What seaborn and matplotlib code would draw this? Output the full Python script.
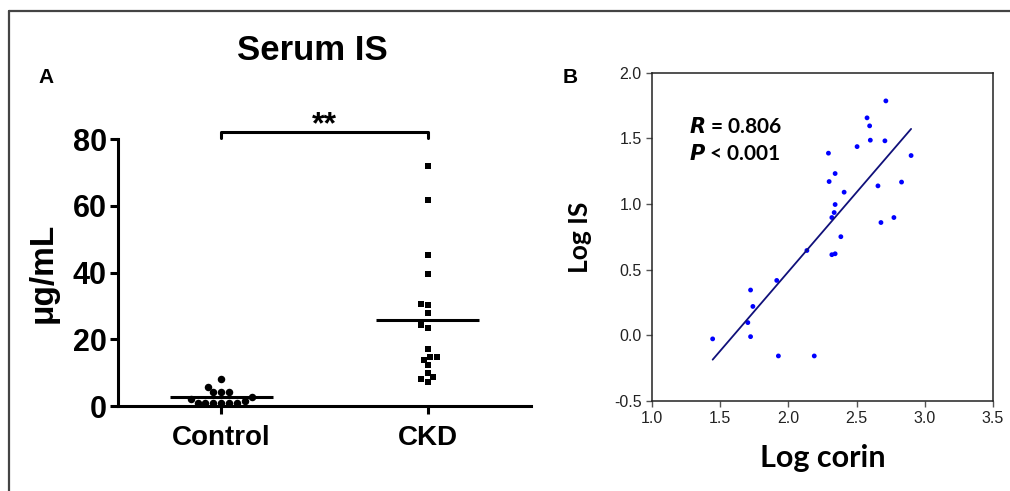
import numpy as np
import pandas as pd
import matplotlib
matplotlib.use("Agg")
import matplotlib.pyplot as plt
import seaborn as sns
from matplotlib.lines import Line2D

# Dados
grupos = ["Control", "CKD"]
control_vals = [8.0, 5.6, 4.1, 4.1, 4.2, 2.6, 2.1, 1.5, 1.0, 1.0, 1.0, 1.0, 1.0, 1.0]
ckd_vals = [72.0, 61.6, 45.3, 39.5, 30.6, 30.3, 27.8, 24.3, 23.5, 17.1,
            14.8, 14.8, 13.9, 12.2, 9.8, 8.6, 7.3, 8.0]

log_corin = [1.445, 1.723, 1.740, 1.703, 1.723, 1.915, 1.927, 2.190, 2.136, 2.294,
             2.343, 2.299, 2.343, 2.336, 2.319, 2.319, 2.343, 2.409, 2.385, 2.504,
             2.577, 2.596, 2.601, 2.715, 2.708, 2.657, 2.679, 2.774, 2.830, 2.900]
log_is = [-0.027, 0.345, 0.220, 0.097, -0.010, 0.418, -0.157, -0.157, 0.646, 1.387,
          1.232, 1.171, 0.996, 0.935, 0.897, 0.614, 0.621, 1.090, 0.751, 1.437,
          1.656, 1.595, 1.486, 1.785, 1.481, 1.138, 0.859, 0.897, 1.167, 1.369]

serum = pd.DataFrame({
    "grupo": ["Control"] * len(control_vals) + ["CKD"] * len(ckd_vals),
    "valor": control_vals + ckd_vals,
})
corr = pd.DataFrame({"Log corin": log_corin, "Log IS": log_is})

sns.set_style("ticks", {"text.color": "black", "axes.labelcolor": "black",
                        "xtick.color": "black", "ytick.color": "black",
                        "axes.edgecolor": "black"})
plt.rcParams["font.family"] = ["Liberation Sans", "DejaVu Sans"]

fig = plt.figure(figsize=(10.1, 4.91), dpi=100)

# moldura da figura (só topo e esquerda visíveis)
fig.add_artist(Line2D([0.0089, 1.0], [0.9776, 0.9776], transform=fig.transFigure, color="#444444", lw=1.6))
fig.add_artist(Line2D([0.0089, 0.0089], [0.0, 0.9776], transform=fig.transFigure, color="#444444", lw=1.6))

### Painel A
ax1 = fig.add_axes([0.1168, 0.1731, 0.409, 0.5438])
sns.swarmplot(x="grupo", y="valor", data=serum[serum.grupo == "Control"], order=grupos,
              color="black", marker="o", size=5.4, ax=ax1)
sns.swarmplot(x="grupo", y="valor", data=serum[serum.grupo == "CKD"], order=grupos,
              color="black", marker="s", size=4.8, ax=ax1)

# linhas de média
for i, g in enumerate(grupos):
    m = serum[serum.grupo == g]["valor"].mean()
    ax1.hlines(m, i - 0.25, i + 0.25, color="black", lw=2.2, zorder=3)

ax1.set_xlim(-0.5, 1.5)
ax1.set_ylim(0, 80)
ax1.set_yticks([0, 20, 40, 60, 80])
ax1.set_xlabel("")
ax1.set_ylabel("μg/mL", fontsize=24, fontweight="bold", labelpad=10)
for s in ["top", "right"]:
    ax1.spines[s].set_visible(False)
for s in ["left", "bottom"]:
    ax1.spines[s].set_linewidth(2.2)
ax1.tick_params(axis="both", width=2.2, length=6)
ax1.tick_params(axis="x", labelsize=20, pad=8)
ax1.tick_params(axis="y", labelsize=22, pad=2)
for lab in ax1.get_xticklabels() + ax1.get_yticklabels():
    lab.set_fontweight("bold")

# barra de significância
ax1.plot([0, 0, 1, 1], [80.3, 82.1, 82.1, 80.3], color="black", lw=2.2, clip_on=False)
ax1.text(0.5, 81.6, "**", ha="center", va="baseline", fontsize=23, fontweight="bold")

fig.text(0.309, 0.898, "Serum IS", ha="center", va="center", fontsize=25, fontweight="bold")
fig.text(0.046, 0.843, "A", ha="center", va="center", fontsize=15, fontweight="bold")

### Painel B
ax2 = fig.add_axes([0.6455, 0.1833, 0.3376, 0.6687])
sns.scatterplot(x="Log corin", y="Log IS", data=corr, color="blue", s=12,
                edgecolor="none", ax=ax2)
sns.regplot(x="Log corin", y="Log IS", data=corr, scatter=False, ci=None,
            color="#10107a", line_kws={"lw": 1.3}, ax=ax2)
ax2.set_xlim(1.0, 3.5)
ax2.set_ylim(-0.5, 2.0)
ax2.set_xticks([1.0, 1.5, 2.0, 2.5, 3.0, 3.5])
ax2.set_yticks([-0.5, 0.0, 0.5, 1.0, 1.5, 2.0])
ax2.set_xticklabels(["1.0", "1.5", "2.0", "2.5", "3.0", "3.5"])
ax2.set_yticklabels(["-0.5", "0.0", "0.5", "1.0", "1.5", "2.0"])
for s in ax2.spines.values():
    s.set_linewidth(1.1)
    s.set_color("#222222")
ax2.tick_params(axis="both", length=4, width=1, color="#555555", labelsize=11.5,
                labelcolor="#222222")
ax2.set_xlabel("Log corin", fontsize=22, fontweight="bold", family=["Lato", "DejaVu Sans"], labelpad=13)
ax2.set_ylabel("Log IS", fontsize=19, fontweight="bold", family=["Lato", "DejaVu Sans"], labelpad=16)

ax2.text(0.11, 0.836, "$\\bfit{R}$ = 0.806", transform=ax2.transAxes, fontsize=15,
         fontweight="bold", family=["Lato", "DejaVu Sans"], va="center")
ax2.text(0.11, 0.751, "$\\bfit{P}$ < 0.001", transform=ax2.transAxes, fontsize=15,
         fontweight="bold", family=["Lato", "DejaVu Sans"], va="center")

fig.text(0.565, 0.843, "B", ha="center", va="center", fontsize=15, fontweight="bold")

plt.savefig("out.png", dpi=100)
